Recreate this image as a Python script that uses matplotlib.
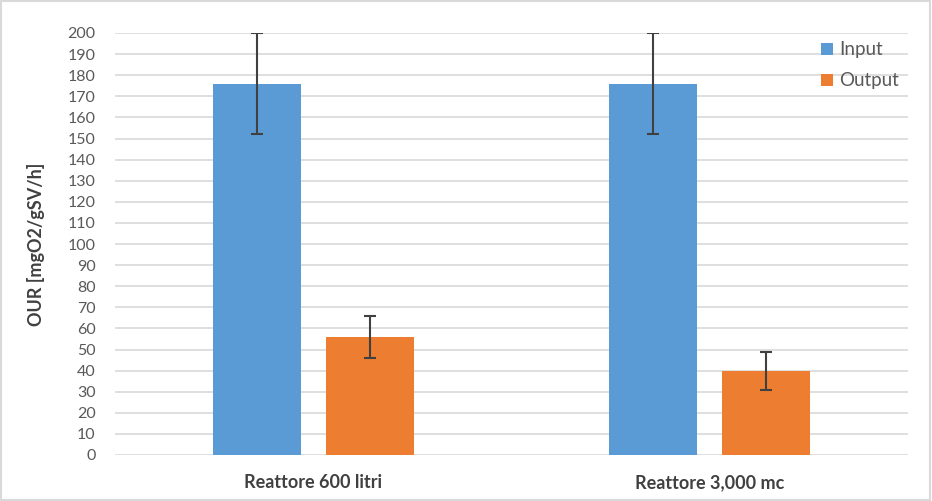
import matplotlib.pyplot as plt
import numpy as np
from matplotlib.patches import Rectangle

# data
categories = ['Reattore 600 litri', 'Reattore 3,000 mc']
input_vals = [176, 176]
input_err = [24, 24]
output_vals = [56, 40]
output_err = [10, 9]
y_ticks = list(range(0, 201, 10))

plt.rcParams['font.family'] = ['Lato', 'DejaVu Sans']

fig = plt.figure(figsize=(9.32, 5.01), dpi=100)
ax = fig.add_axes([115 / 932, 46 / 501, 793 / 932, 422 / 501])

x = np.arange(len(categories))
width = 0.222
offset = 0.142
err_kw = dict(ecolor='#404040', elinewidth=1.5, capsize=4, capthick=1.5)

ax.bar(x - offset, input_vals, width, color='#5b9bd5', label='Input',
       yerr=input_err, error_kw=err_kw, zorder=2)
ax.bar(x + offset, output_vals, width, color='#ed7d31', label='Output',
       yerr=output_err, error_kw=err_kw, zorder=2)

ax.set_xlim(-0.5, len(categories) - 0.5)
ax.set_ylim(0, 200)
ax.set_yticks(y_ticks)
ax.set_xticks(x)
ax.set_xticklabels(categories, fontweight='bold', fontsize=13, color='#404040')
ax.tick_params(axis='y', labelsize=11.5, labelcolor='#595959', length=0, pad=14)
ax.tick_params(axis='x', length=0, pad=14)
ax.yaxis.grid(True, color='#d9d9d9', linewidth=1.2, zorder=0)
ax.set_axisbelow(True)
for s in ax.spines.values():
    s.set_visible(False)

ax.set_ylabel('OUR [mgO2/gSV/h]', fontweight='bold', fontsize=13,
              color='#404040', labelpad=16)

leg = ax.legend(loc='upper right', bbox_to_anchor=(1.01, 1.02), frameon=False,
                fontsize=13.5, handlelength=0.65, handleheight=0.65,
                handletextpad=0.35, labelspacing=0.75)
for t in leg.get_texts():
    t.set_color('#595959')

fig.patches.append(Rectangle((0.001, 0.002), 0.997, 0.996, transform=fig.transFigure,
                             fill=False, edgecolor='#d9d9d9', linewidth=1.5))

fig.savefig('out.png', dpi=100)
